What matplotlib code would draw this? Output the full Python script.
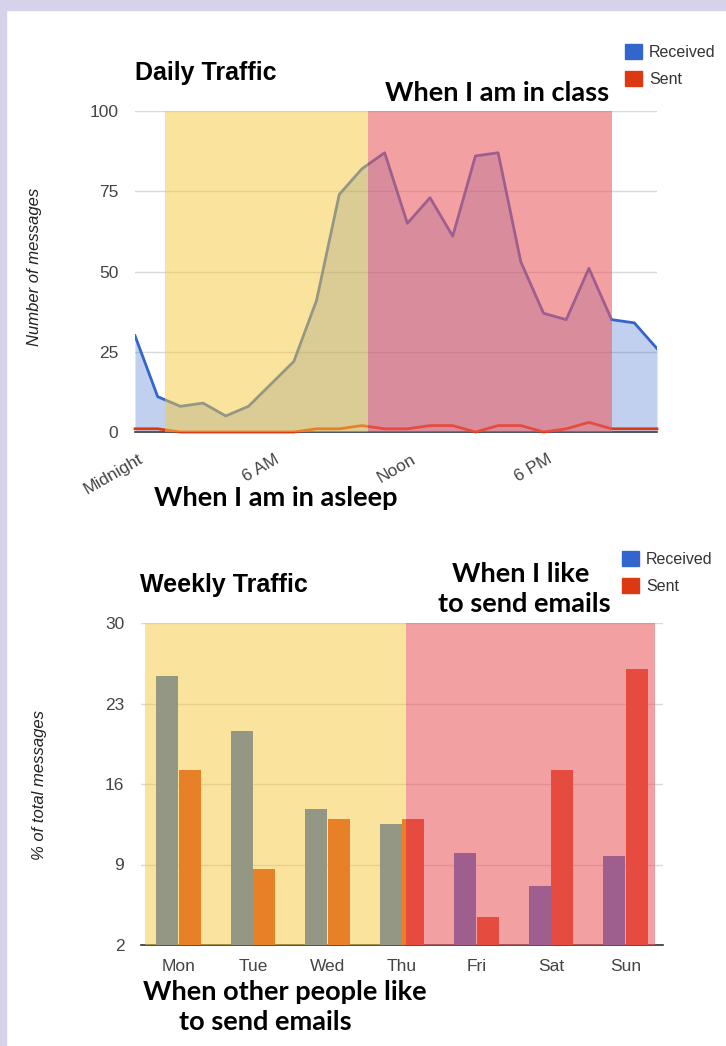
import numpy as np
import matplotlib.pyplot as plt
import matplotlib.transforms as mtransforms
from matplotlib.patches import Patch, Rectangle

plt.rcParams['font.family'] = ['Liberation Sans', 'DejaVu Sans']

# daily traffic, one point per hour
hours = np.arange(24)
received_daily = [30, 11, 8, 9, 5, 8, 15, 22, 41, 74, 82, 87,
                  65, 73, 61, 86, 87, 53, 37, 35, 51, 35, 34, 26]
sent_daily = [1, 1, 0, 0, 0, 0, 0, 0, 1, 1, 2, 1,
              1, 2, 2, 0, 2, 2, 0, 1, 3, 1, 1, 1]
hour_ticks = [0, 6, 12, 18]
hour_labels = ['Midnight', '6 AM', 'Noon', '6 PM']

# weekly traffic, % of total messages
days = ['Mon', 'Tue', 'Wed', 'Thu', 'Fri', 'Sat', 'Sun']
received_weekly = [25.4, 20.6, 13.8, 12.5, 10.0, 7.1, 9.7]
sent_weekly = [17.2, 8.6, 13.0, 13.0, 4.4, 17.2, 26.0]

BLUE = '#3366cc'
RED = '#dc3912'
YEL_OVER = '#f5c83d'
RED_OVER = '#ec5b61'
W, H = 726, 1046


def box(l, t, r, b):
    return [l / W, 1 - b / H, (r - l) / W, (b - t) / H]


fig = plt.figure(figsize=(W / 100, H / 100), dpi=100, facecolor='white')
# lavender frame
fig.patches.append(Rectangle((0, 0), 6 / W, 1, transform=fig.transFigure, color='#d6d2ea', zorder=0))
fig.patches.append(Rectangle((0, 1 - 10 / H), 1, 10 / H, transform=fig.transFigure, color='#d6d2ea', zorder=0))

# ---------------- daily ----------------
ax1 = fig.add_axes(box(135, 111, 657, 432))
ax1.set_xlim(0, 23)
ax1.set_ylim(0, 100)
for s in ax1.spines.values():
    s.set_visible(False)
ax1.set_yticks([0, 25, 50, 75, 100])
ax1.yaxis.grid(True, color='#d9d9d9', lw=1, zorder=0)
ax1.set_axisbelow(True)
ax1.axhline(0, color='#333333', lw=1.2, zorder=1, clip_on=False)
ax1.fill_between(hours, 0, received_daily, color=BLUE, alpha=0.3, lw=0, zorder=1)
ax1.plot(hours, received_daily, color=BLUE, lw=2, zorder=2)
ax1.plot(hours, sent_daily, color=RED, lw=2, zorder=2, clip_on=False)
ax1.axvspan(1.3, 10.25, color=YEL_OVER, alpha=0.5, lw=0, zorder=3)
ax1.axvspan(10.25, 21.0, color=RED_OVER, alpha=0.58, lw=0, zorder=3)
ax1.tick_params(length=0, labelsize=12.5, labelcolor='#444444', pad=12)
ax1.set_xticks(hour_ticks)
ax1.set_xticklabels(hour_labels, rotation=30, ha='right', rotation_mode='anchor')
off = mtransforms.ScaledTranslation(3 / 100, -3 / 100, fig.dpi_scale_trans)
for lab in ax1.get_xticklabels():
    lab.set_transform(lab.get_transform() + off)

fig.text(35 / W, 1 - 267 / H, 'Number of messages', rotation=90, style='italic',
         fontsize=12, color='#222222', ha='center', va='center')
fig.text(135 / W, 1 - 80 / H, 'Daily Traffic', fontsize=18, weight='bold', va='baseline')
ax1.legend(handles=[Patch(color=BLUE), Patch(color=RED)], labels=['Received', 'Sent'],
           loc='upper left', bbox_to_anchor=(625 / W, 1 - 44 / H), bbox_transform=fig.transFigure,
           frameon=False, fontsize=11.5, labelcolor='#333333', borderpad=0, borderaxespad=0,
           handlelength=1.06, handleheight=1.06, handletextpad=0.44, labelspacing=0.7)

note = dict(family=['Lato', 'DejaVu Sans'], weight='bold', fontsize=19.5, ha='center', va='baseline')
fig.text(497 / W, 1 - 101 / H, 'When I am in class', **note)
fig.text(276 / W, 1 - 506 / H, 'When I am in asleep', **note)

# ---------------- weekly ----------------
ax2 = fig.add_axes(box(141, 623, 663, 945))
ax2.set_xlim(-0.5, 6.5)
ax2.set_ylim(2, 30)
for s in ax2.spines.values():
    s.set_visible(False)
ax2.set_yticks([2, 9, 16, 23, 30])
ax2.yaxis.grid(True, color='#d9d9d9', lw=1, zorder=0)
ax2.set_axisbelow(True)
x = np.arange(len(days))
ax2.bar(x - 0.152, np.array(received_weekly) - 2, bottom=2, width=0.295, color=BLUE, zorder=2)
ax2.bar(x + 0.152, np.array(sent_weekly) - 2, bottom=2, width=0.295, color=RED, zorder=2)
ax2.axhline(2, color='#333333', lw=1.2, zorder=1, clip_on=False)
ax2.axvspan(-0.44, 3.05, color=YEL_OVER, alpha=0.5, lw=0, zorder=3)
ax2.axvspan(3.05, 6.39, color=RED_OVER, alpha=0.58, lw=0, zorder=3)
ax2.set_xticks(x)
ax2.set_xticklabels(days)
ax2.tick_params(length=0, labelsize=12.5, labelcolor='#444444', pad=12)
ax2.tick_params(axis='x', pad=10)

fig.text(40 / W, 1 - 785 / H, '% of total messages', rotation=90, style='italic',
         fontsize=12, color='#222222', ha='center', va='center')
fig.text(140 / W, 1 - 592 / H, 'Weekly Traffic', fontsize=18, weight='bold', va='baseline')
ax2.legend(handles=[Patch(color=BLUE), Patch(color=RED)], labels=['Received', 'Sent'],
           loc='upper left', bbox_to_anchor=(622 / W, 1 - 551 / H), bbox_transform=fig.transFigure,
           frameon=False, fontsize=11.5, labelcolor='#333333', borderpad=0, borderaxespad=0,
           handlelength=1.06, handleheight=1.06, handletextpad=0.44, labelspacing=0.7)

fig.text(521 / W, 1 - 582 / H, 'When I like', **note)
fig.text(524 / W, 1 - 612 / H, 'to send emails', **note)
fig.text(285 / W, 1 - 1000 / H, 'When other people like', **note)
fig.text(265 / W, 1 - 1030 / H, 'to send emails', **note)

fig.savefig('out.png', dpi=100, facecolor='white')
